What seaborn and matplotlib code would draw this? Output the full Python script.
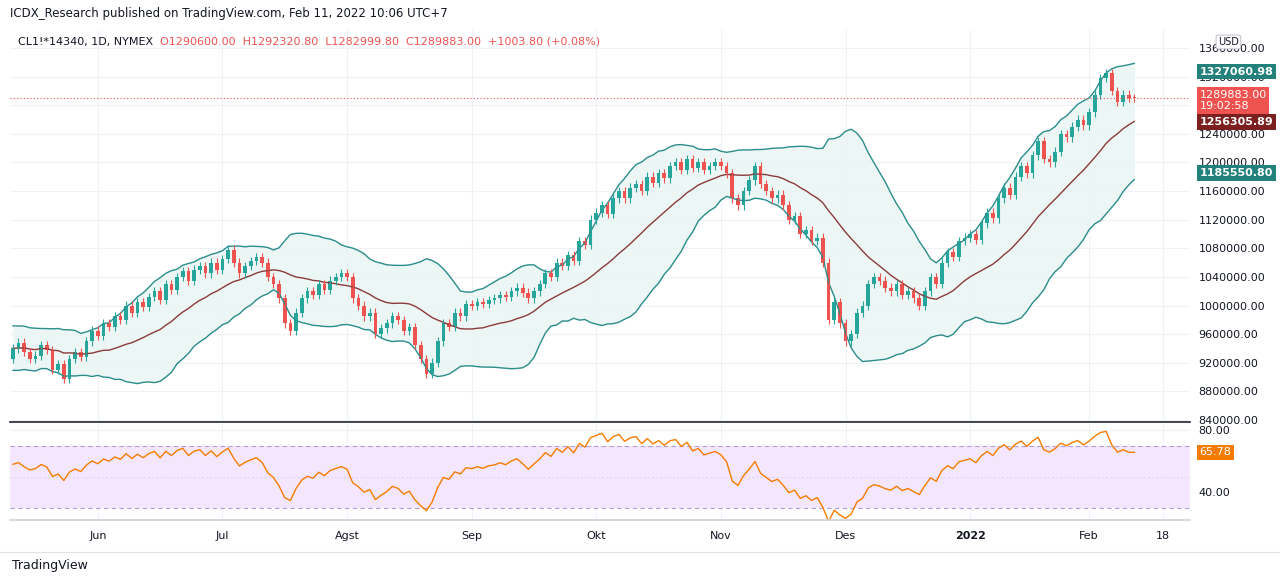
import numpy as np
import pandas as pd
import matplotlib
matplotlib.use('Agg')
import matplotlib.pyplot as plt
import seaborn as sns

# closes in thousands, 20 warm-up bars then May 10 2021 .. Feb 10 2022
warmup = [935, 950, 925, 960, 945, 915, 940, 955, 930, 965,
          920, 945, 960, 930, 950, 915, 940, 965, 935, 925]
closes = [
    940, 948, 935, 925, 930, 945, 938, 910, 918, 898, 925, 935, 928, 950, 965,
    958, 975, 970, 985, 980, 1000, 990, 1005, 998, 1012, 1020, 1008, 1030, 1022, 1040, 1048, 1035, 1050, 1055, 1045, 1060, 1050,
    1065, 1078, 1060, 1045, 1055, 1062, 1068, 1060, 1040, 1030, 1010, 975, 965, 990, 1010, 1020, 1015, 1030, 1022, 1035, 1040, 1045,
    1040, 1010, 1000, 985, 990, 960, 968, 975, 985, 980, 965, 970, 945, 925, 905, 920, 950, 975, 970, 990, 985, 1002,
    1000, 1005, 1002, 1008, 1010, 1015, 1012, 1020, 1025, 1018, 1010, 1020, 1030, 1045, 1040, 1060, 1055, 1070, 1062, 1090, 1085, 1120,
    1130, 1140, 1128, 1150, 1160, 1150, 1165, 1170, 1160, 1180, 1172, 1185, 1178, 1195, 1200, 1190, 1205, 1192, 1200, 1190, 1195, 1200,
    1195, 1185, 1150, 1140, 1160, 1175, 1195, 1170, 1160, 1150, 1155, 1140, 1120, 1125, 1100, 1105, 1090, 1095, 1060, 980, 1005, 975,
    950, 960, 990, 1000, 1030, 1040, 1035, 1025, 1020, 1030, 1015, 1020, 1010, 1000, 1020, 1040, 1030, 1060, 1075, 1068, 1090, 1095,
    1100, 1092, 1115, 1130, 1122, 1150, 1165, 1155, 1180, 1195, 1185, 1210, 1230, 1205, 1200, 1215, 1240, 1235, 1250, 1260, 1252, 1270,
    1295, 1318, 1325, 1300, 1285, 1295, 1290, 1289.883,
]
month_labels = ['Jun', 'Jul', 'Agst', 'Sep', 'Okt', 'Nov', 'Des', '2022', 'Feb', '18']
month_bars = [15, 37, 59, 81, 103, 125, 147, 169, 190, 203]
price_tags = [('1327060.98', 1327060.98, '#22817a'),
              ('1256305.89', 1256305.89, '#7b1f1f'),
              ('1185550.80', 1185550.80, '#22817a')]
last_tag = '1289883.00'
rsi_tag = '65.78'

UP, DOWN = '#26a69a', '#ef5350'
BAND = '#2b8c8c'

allc = pd.Series(np.array(warmup + closes) * 1000.0)
opens_all = allc.shift(1).fillna(allc.iloc[0])
mid = allc.rolling(20).mean()
sd = allc.rolling(20).std(ddof=0)
upper, lower = mid + 2 * sd, mid - 2 * sd
delta = allc.diff()
gain = delta.clip(lower=0).ewm(alpha=1 / 14, adjust=False).mean()
loss = (-delta.clip(upper=0)).ewm(alpha=1 / 14, adjust=False).mean()
rsi = 100 - 100 / (1 + gain / loss)

n0 = len(warmup)
df = pd.DataFrame({
    'x': np.arange(len(closes)),
    'open': opens_all.iloc[n0:].values,
    'close': allc.iloc[n0:].values,
    'mid': mid.iloc[n0:].values,
    'upper': upper.iloc[n0:].values,
    'lower': lower.iloc[n0:].values,
    'rsi': rsi.iloc[n0:].values,
})

sns.set_theme(style='white')
plt.rcParams['font.family'] = ['DejaVu Sans']
fig = plt.figure(figsize=(12.8, 5.84), dpi=100)
ax = fig.add_axes([10 / 1280, 1 - 422 / 584, 1180 / 1280, 392 / 584])
ax2 = fig.add_axes([10 / 1280, 1 - 520 / 584, 1180 / 1280, 96 / 584], sharex=ax)

# Bollinger
ax.fill_between(df['x'], df['lower'], df['upper'], color='#e8f5f3', alpha=0.8, lw=0)
sns.lineplot(data=df, x='x', y='upper', ax=ax, color=BAND, lw=1)
sns.lineplot(data=df, x='x', y='lower', ax=ax, color=BAND, lw=1)
sns.lineplot(data=df, x='x', y='mid', ax=ax, color='#8b3a3a', lw=1)

# candles
for _, r in df.iterrows():
    col = UP if r['close'] >= r['open'] else DOWN
    lo, hi = min(r['open'], r['close']), max(r['open'], r['close'])
    ax.vlines(r['x'], lo - 6000, hi + 6000, color=col, lw=0.8)
    ax.bar(r['x'], max(hi - lo, 1500), bottom=lo, width=0.65, color=col, lw=0)

last = df['close'].iloc[-1]
ax.axhline(last, color=DOWN, ls=(0, (1, 2)), lw=0.8)

ax.set_ylim(837200, 1385200)
ax.set_xlim(-0.5, 207.8)
ax.set_yticks(np.arange(840000, 1360001, 40000))
ax.yaxis.tick_right()
ax.tick_params(axis='y', labelsize=8, colors='#131722', length=0, pad=6)
ax.set_yticklabels([f'{v:.2f}' for v in ax.get_yticks()])
ax.set_xticks(month_bars)
ax.tick_params(axis='x', labelbottom=False, length=0)
ax.grid(True, color='#eef1f6', lw=0.8)
ax.set_xlabel('')
ax.set_ylabel('')
for s in ['top', 'left', 'right']:
    ax.spines[s].set_visible(False)
ax.spines['bottom'].set_color('#2a2e39')

bx = dict(boxstyle='square,pad=0.25', lw=0)
for txt, v, c in price_tags:
    ax.text(1.008, v, txt, transform=ax.get_yaxis_transform(), color='white', fontsize=8,
            va='center', ha='left', bbox=dict(bx, fc=c), fontweight='bold', zorder=5)
ax.text(1.008, last - 3000, last_tag + '\n19:02:58', transform=ax.get_yaxis_transform(),
        color='white', fontsize=8, va='center', ha='left', bbox=dict(bx, fc=DOWN),
        linespacing=1.1, zorder=5)

# RSI
ax2.axhspan(30, 70, color='#f3e6fd', lw=0)
ax2.axhline(70, color='#b39ddb', ls=(0, (4, 3)), lw=0.8)
ax2.axhline(30, color='#b39ddb', ls=(0, (4, 3)), lw=0.8)
ax2.axhline(50, color='#d9c9ef', ls=(0, (2, 3)), lw=0.6)
sns.lineplot(data=df, x='x', y='rsi', ax=ax2, color='#f57c00', lw=1)
ax2.set_ylim(22, 84)
ax2.set_yticks([40, 80])
ax2.yaxis.tick_right()
ax2.set_yticklabels(['40.00', '80.00'])
ax2.tick_params(axis='y', labelsize=8, colors='#131722', length=0, pad=6)
ax2.set_xticks(month_bars)
ax2.set_xticklabels(month_labels)
for lab in ax2.get_xticklabels():
    if lab.get_text() == '2022':
        lab.set_fontweight('bold')
ax2.tick_params(axis='x', labelsize=8, colors='#131722', length=0, pad=8)
ax2.grid(True, color='#eef1f6', lw=0.8)
ax2.set_xlabel('')
ax2.set_ylabel('')
for s in ['top', 'left', 'right']:
    ax2.spines[s].set_visible(False)
ax2.spines['bottom'].set_color('#d1d4dc')
ax2.text(1.008, df['rsi'].iloc[-1], rsi_tag, transform=ax2.get_yaxis_transform(), color='white',
         fontsize=8, va='center', ha='left', bbox=dict(bx, fc='#f57c00'))

fig.text(10 / 1280, 1 - 14 / 584, 'ICDX_Research published on TradingView.com, Feb 11, 2022 10:06 UTC+7',
         fontsize=8.5, color='#131722', va='center')
fig.text(18 / 1280, 1 - 42 / 584, 'CL1!*14340, 1D, NYMEX', fontsize=8, color='#131722', va='center')
fig.text(160 / 1280, 1 - 42 / 584, 'O1290600.00  H1292320.80  L1282999.80  C1289883.00  +1003.80 (+0.08%)',
         fontsize=8, color=DOWN, va='center')
fig.text(1218 / 1280, 1 - 42 / 584, 'USD', fontsize=7, color='#131722', va='center', zorder=6,
         bbox=dict(boxstyle='round,pad=0.2', fc='white', ec='#b2b5be', lw=0.6))
fig.text(12 / 1280, 1 - 566 / 584, 'TradingView', fontsize=9, color='#131722', va='center')
fig.add_artist(plt.Line2D([0, 1], [1 - 552 / 584] * 2, color='#e0e3eb', lw=0.8))

fig.savefig('out.png', dpi=100)
